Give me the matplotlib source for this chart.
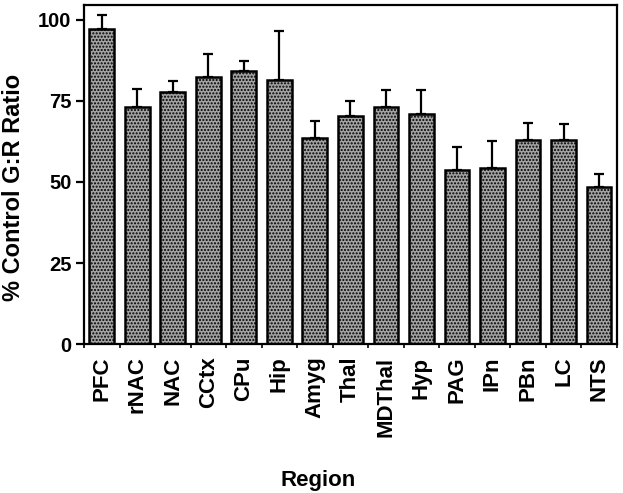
import numpy as np
import matplotlib.pyplot as plt

regions = ["PFC", "rNAC", "NAC", "CCtx", "CPu", "Hip", "Amyg", "Thal",
           "MDThal", "Hyp", "PAG", "IPn", "PBn", "LC", "NTS"]
ratio = [97.1, 73.1, 77.8, 82.5, 84.3, 81.5, 63.7, 70.2,
         73.2, 71.1, 53.7, 54.2, 62.9, 62.9, 48.5]
err_top = [101.4, 78.8, 81.2, 89.4, 87.3, 96.6, 68.8, 75.0,
           78.4, 78.4, 60.8, 62.7, 68.3, 67.9, 52.4]
yticks = [0, 25, 50, 75, 100]

sem = np.array(err_top) - np.array(ratio)
xpos = np.arange(len(regions))

plt.rcParams['font.family'] = ['Liberation Sans', 'DejaVu Sans']
plt.rcParams['font.weight'] = 'bold'
plt.rcParams['hatch.color'] = '#6e6e6e'

fig = plt.figure(figsize=(6.23, 4.93), dpi=100)
ax = fig.add_axes([0.135, 0.302, 0.855, 0.688])

ax.bar(xpos, ratio, width=0.7, color='#a3a3a3', edgecolor='black',
       linewidth=1.8, hatch='.....', zorder=2)
ax.errorbar(xpos, ratio, yerr=[np.zeros_like(sem), sem], fmt='none',
            ecolor='black', elinewidth=1.6, capsize=3.5, capthick=1.6, zorder=1)

ax.set_xlim(-0.5, len(regions) - 0.5)
ax.set_ylim(0, 104.6)
ax.set_yticks(yticks)
ax.set_yticklabels([str(t) for t in yticks], fontsize=14.5, fontweight='bold')
ax.set_xticks(xpos)
ax.set_xticklabels(regions, rotation=90, fontsize=16, fontweight='bold')
ax.set_xticks(np.arange(len(regions) + 1) - 0.5, minor=True)
ax.tick_params(axis='x', which='major', length=0, pad=9)
ax.tick_params(axis='x', which='minor', length=3, width=1.2)
ax.tick_params(axis='y', length=6, width=1.6, pad=3)

for s in ax.spines.values():
    s.set_linewidth(1.6)

fig.text(0.022, 0.619, "% Control G:R Ratio", fontsize=17, fontweight='bold',
         rotation=90, ha='center', va='center')
fig.text(0.511, 0.014, "Region", fontsize=16, fontweight='bold',
         ha='center', va='baseline')

fig.savefig("out.png", dpi=100)
